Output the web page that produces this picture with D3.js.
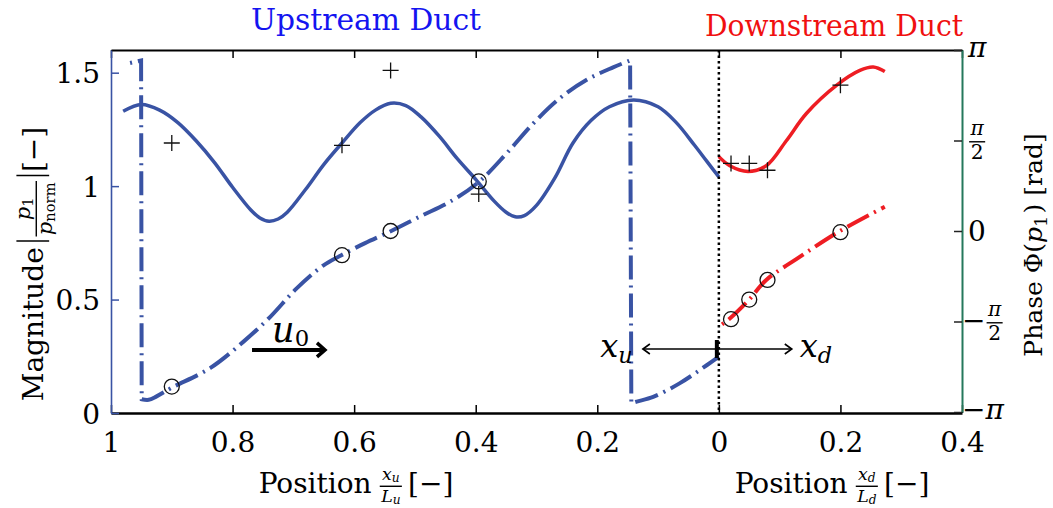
<!DOCTYPE html>
<html>
<head>
<meta charset="utf-8">
<script src="https://cdn.jsdelivr.net/npm/d3@7"></script>
<style>
  body { margin: 0; background: #fff; }
  svg { display: block; }
  svg text { font-family: "DejaVu Serif", "Liberation Serif", serif; }
</style>
</head>
<body>
<svg id="chart" width="1053" height="508"></svg>
<script>
// ---- data ----
// upstream duct: position x_u/L_u (axis runs 1 -> 0 from left to right)
var upMagPos = [0.98, 0.95, 0.92, 0.89, 0.86, 0.83, 0.80, 0.77, 0.755, 0.74, 0.725, 0.71, 0.68, 0.65, 0.62,
                0.59, 0.565, 0.54, 0.515, 0.49, 0.46, 0.43, 0.40, 0.37, 0.35, 0.335, 0.32, 0.30, 0.27,
                0.24, 0.21, 0.18, 0.14, 0.10, 0.07, 0.04, 0.02, 0.0];
var upMag    = [1.33, 1.36, 1.335, 1.28, 1.20, 1.105, 0.995, 0.895, 0.86, 0.845, 0.855, 0.885, 0.985, 1.095, 1.19,
                1.28, 1.335, 1.365, 1.355, 1.305, 1.22, 1.12, 1.03, 0.935, 0.885, 0.865, 0.87, 0.915, 1.035,
                1.19, 1.29, 1.35, 1.38, 1.35, 1.28, 1.18, 1.11, 1.04];
var upPhasePos = [0.975, 0.9505, 0.9495, 0.938, 0.925, 0.90, 0.837, 0.782, 0.738, 0.695, 0.651, 0.621, 0.582, 0.539,
                  0.492, 0.437, 0.394, 0.349, 0.305, 0.262, 0.218, 0.174, 0.146, 0.144, 0.135, 0.108, 0.064, 0.02, 0.0];
var upPhase    = [2.90, 2.96, -2.92, -2.93, -2.87, -2.72, -2.38, -1.92, -1.49, -1.00, -0.60, -0.42, -0.21, 0.0,
                  0.25, 0.54, 0.86, 1.35, 1.87, 2.30, 2.62, 2.84, 2.96, -2.99, -2.96, -2.88, -2.64, -2.33, -2.18];
var upMeasPos   = [0.90, 0.62, 0.54, 0.395];
var upMeasMag   = [1.19, 1.18, 1.51, 0.965];
var upMeasPhase = [-2.70, -0.42, 0.0, 0.86];

// downstream duct: position x_d/L_d
var dnMagPos = [0, 0.018, 0.048, 0.078, 0.111, 0.144, 0.194, 0.232, 0.254, 0.273];
var dnMag    = [1.13, 1.09, 1.065, 1.09, 1.20, 1.32, 1.445, 1.51, 1.525, 1.505];
var dnPhasePos = [0, 0.018, 0.05, 0.078, 0.133, 0.196, 0.273];
var dnPhase    = [-1.66, -1.52, -1.19, -0.85, -0.45, -0.02, 0.42];
var dnMeasPos   = [0.02, 0.05, 0.08, 0.20];
var dnMeasMag   = [1.10, 1.10, 1.07, 1.445];
var dnMeasPhase = [-1.53, -1.19, -0.85, -0.02];

// axis ticks (negative = upstream side)
var xTicks = [-1, -0.8, -0.6, -0.4, -0.2, 0, 0.2, 0.4];
var magTicks = [0, 0.5, 1, 1.5];
var phaseTicks = [-Math.PI, -Math.PI / 2, 0, Math.PI / 2, Math.PI];

var blue = "#3953a4", red = "#ee1d23", green = "#25785c";
var serif = "DejaVu Serif, Liberation Serif, serif";

var svg = d3.select("#chart");
var x = d3.scaleLinear().domain([-1, 0.4]).range([111, 962]);
var yMag = d3.scaleLinear().domain([0, 1.6]).range([413, 50]);
var yPh = d3.scaleLinear().domain([-Math.PI, Math.PI]).range([412, 50]);

// simple math typesetting: text runs, subscripts, fractions, tall bars
function typeset(g, parts, fs) {
  var cx = 0;
  parts.forEach(function (p) {
    if (p.frac) {
      var sz = fs * (p.scale || 0.72);
      var fg = g.append("g");
      var ng = fg.append("g"), dg = fg.append("g");
      var wn = typeset(ng, p.frac[0], sz), wd = typeset(dg, p.frac[1], sz);
      var w = Math.max(wn, wd) + fs * 0.1;
      var bar = -fs * 0.24;
      cx += fs * (p.pre || 0.04);
      ng.attr("transform", "translate(" + (cx + (w - wn) / 2) + "," + (bar - sz * (p.nd || 0.25)) + ")");
      dg.attr("transform", "translate(" + (cx + (w - wd) / 2) + "," + (bar + sz * (p.dd || 0.75)) + ")");
      fg.append("line").attr("x1", cx).attr("x2", cx + w).attr("y1", bar).attr("y2", bar)
        .attr("stroke", "#000").attr("stroke-width", Math.max(1.2, fs * 0.05));
      cx += w + fs * (p.gap || 0.08);
    } else if (p.bar) {
      g.append("line").attr("x1", cx + fs * 0.12).attr("x2", cx + fs * 0.12)
        .attr("y1", -fs * p.bar[0]).attr("y2", fs * p.bar[1])
        .attr("stroke", "#000").attr("stroke-width", 1.4);
      cx += fs * 0.24;
    } else {
      var sz2 = fs * (p.s || 1);
      var t = g.append("text").attr("x", cx).attr("y", (p.dy || 0) * fs)
        .attr("font-size", sz2).attr("font-style", p.i ? "italic" : null)
        .attr("font-family", serif).attr("fill", "#000").text(p.t);
      cx += t.node().getComputedTextLength() + (p.k || 0) * fs;
    }
  });
  return cx;
}

function mathText(parts, fs, px, py, rot, anchor) {
  var g = svg.append("g");
  var inner = g.append("g");
  var w = typeset(inner, parts, fs);
  var off = anchor === "start" ? 0 : anchor === "end" ? -w : -w / 2;
  inner.attr("transform", "translate(" + off + ",0)");
  g.attr("transform", "translate(" + px + "," + py + ")" + (rot ? " rotate(" + rot + ")" : ""));
  return g;
}

// ---- axes ----
var fmt = function (d) { return String(+Math.abs(d).toFixed(1)); };

var gBottom = svg.append("g").attr("transform", "translate(0," + yMag(0) + ")")
  .call(d3.axisBottom(x).tickValues(xTicks).tickSizeInner(-8).tickSizeOuter(0)
    .tickPadding(19).tickFormat(fmt));
gBottom.attr("font-family", serif);
gBottom.select(".domain").attr("stroke", "#000").attr("stroke-width", 2.5);
gBottom.selectAll(".tick line").attr("stroke", "#000").attr("stroke-width", 1.5);
gBottom.selectAll(".tick text").attr("font-size", 28).attr("fill", "#000");

var gTop = svg.append("g").attr("transform", "translate(0," + yMag(1.6) + ")")
  .call(d3.axisTop(x).tickValues(xTicks).tickSizeInner(-8).tickSizeOuter(0).tickFormat(""));
gTop.select(".domain").attr("stroke", "#000").attr("stroke-width", 2);
gTop.selectAll(".tick line").attr("stroke", "#000").attr("stroke-width", 1.5);

var gLeft = svg.append("g").attr("transform", "translate(" + x(-1) + ",0)")
  .call(d3.axisLeft(yMag).tickValues(magTicks).tickSizeInner(-8).tickSizeOuter(0)
    .tickPadding(11).tickFormat(function (d) { return String(d); }));
gLeft.attr("font-family", serif);
gLeft.select(".domain").attr("stroke", blue).attr("stroke-width", 1.6);
gLeft.selectAll(".tick line").attr("stroke", blue).attr("stroke-width", 1.5);
gLeft.selectAll(".tick text").attr("font-size", 28).attr("fill", "#000").attr("dy", "0.36em");

var gRight = svg.append("g").attr("transform", "translate(" + x(0.4) + ",0)")
  .call(d3.axisRight(yPh).tickValues(phaseTicks).tickSizeInner(-8).tickSizeOuter(0).tickFormat(""));
gRight.select(".domain").attr("stroke", green).attr("stroke-width", 2);
gRight.selectAll(".tick line").attr("stroke", "#222").attr("stroke-width", 1.5);

// right tick labels in units of pi
var piLabels = [
  [{ t: "\u2212" }, { t: "\u03c0", i: true }],
  [{ t: "\u2212" }, { frac: [[{ t: "\u03c0", i: true }], [{ t: "2" }]], nd: 0.32, dd: 0.85 }],
  [{ t: "0" }],
  [{ frac: [[{ t: "\u03c0", i: true }], [{ t: "2" }]], nd: 0.32, dd: 0.85 }],
  [{ t: "\u03c0", i: true }]
];
phaseTicks.forEach(function (v, i) {
  var isFrac = i === 1 || i === 3;
  var base = i === 2 ? yPh(v) + 10 : isFrac ? yPh(v) + 8 : yPh(v) + 7;
  mathText(piLabels[i], 28, x(0.4) + (i < 2 ? 0 : 6), base, 0, "start");
});

// ---- curves ----
// smooth each branch; wraps of the phase are joined by straight jumps
function branchPath(pos, val, sx, yS) {
  var pts = d3.zip(pos, val), segs = [[pts[0]]];
  for (var i = 1; i < pts.length; i++) {
    if (Math.abs(pts[i][1] - pts[i - 1][1]) > Math.PI) segs.push([]);
    segs[segs.length - 1].push(pts[i]);
  }
  var ln = d3.line().x(function (d) { return x(sx * d[0]); }).y(function (d) { return yS(d[1]); })
    .curve(d3.curveCatmullRom.alpha(0.5));
  return segs.map(function (s, k) {
    var d = ln(s);
    return k === 0 ? d : "L" + d.slice(1);
  }).join("");
}
var dashDot = "24,6,2,6";

svg.append("path").attr("d", branchPath(upPhasePos, upPhase, -1, yPh))
  .attr("fill", "none").attr("stroke", blue).attr("stroke-width", 4)
  .attr("stroke-dasharray", dashDot).attr("stroke-dashoffset", 26);
svg.append("path").attr("d", branchPath(upMagPos, upMag, -1, yMag))
  .attr("fill", "none").attr("stroke", blue).attr("stroke-width", 3.5);
svg.append("path").attr("d", branchPath(dnPhasePos, dnPhase, 1, yPh))
  .attr("fill", "none").attr("stroke", red).attr("stroke-width", 4)
  .attr("stroke-dasharray", dashDot).attr("stroke-dashoffset", 26);
svg.append("path").attr("d", branchPath(dnMagPos, dnMag, 1, yMag))
  .attr("fill", "none").attr("stroke", red).attr("stroke-width", 3.5);

// junction between the ducts
svg.append("line").attr("x1", x(0)).attr("x2", x(0)).attr("y1", yMag(1.6)).attr("y2", yMag(0))
  .attr("stroke", "#000").attr("stroke-width", 2.5).attr("stroke-dasharray", "2.5,3");

// ---- measured points ----
var plusPts = d3.zip(upMeasPos.map(function (d) { return -d; }), upMeasMag)
  .concat(d3.zip(dnMeasPos, dnMeasMag));
var circPts = d3.zip(upMeasPos.map(function (d) { return -d; }), upMeasPhase)
  .concat(d3.zip(dnMeasPos, dnMeasPhase));

svg.append("g").selectAll("path").data(plusPts).enter().append("path")
  .attr("d", function (d) {
    var cx = x(d[0]), cy = yMag(d[1]);
    return "M" + (cx - 8) + "," + cy + "H" + (cx + 8) + "M" + cx + "," + (cy - 8) + "V" + (cy + 8);
  })
  .attr("stroke", "#111").attr("stroke-width", 1.3).attr("fill", "none");

svg.append("g").selectAll("circle").data(circPts).enter().append("circle")
  .attr("cx", function (d) { return x(d[0]); }).attr("cy", function (d) { return yPh(d[1]); })
  .attr("r", 7.5).attr("fill", "none").attr("stroke", "#111").attr("stroke-width", 1.3);

// ---- annotations ----
var ay = yMag(0.282);
svg.append("line").attr("x1", x(0)).attr("x2", x(-0.125)).attr("y1", ay).attr("y2", ay)
  .attr("stroke", "#000").attr("stroke-width", 1.6);
svg.append("line").attr("x1", x(0)).attr("x2", x(0.12)).attr("y1", ay).attr("y2", ay)
  .attr("stroke", "#000").attr("stroke-width", 1.6);
svg.append("path").attr("d", "M" + (x(-0.125) + 7) + "," + (ay - 5) + "L" + x(-0.125) + "," + ay + "L" + (x(-0.125) + 7) + "," + (ay + 5))
  .attr("fill", "none").attr("stroke", "#000").attr("stroke-width", 1.6);
svg.append("path").attr("d", "M" + (x(0.12) - 7) + "," + (ay - 5) + "L" + x(0.12) + "," + ay + "L" + (x(0.12) - 7) + "," + (ay + 5))
  .attr("fill", "none").attr("stroke", "#000").attr("stroke-width", 1.6);
svg.append("line").attr("x1", x(0) - 2).attr("x2", x(0) - 2).attr("y1", ay - 9).attr("y2", ay + 9)
  .attr("stroke", "#000").attr("stroke-width", 4);

mathText([{ t: "x", i: true }, { t: "u", i: true, s: 0.7, dy: 0.2 }], 32, x(-0.195), ay + 8, 0, "start");
mathText([{ t: "x", i: true }, { t: "d", i: true, s: 0.7, dy: 0.2 }], 32, x(0.133), ay + 8, 0, "start");

// mean flow arrow
var uy = yMag(0.278);
svg.append("line").attr("x1", x(-0.768)).attr("x2", x(-0.648)).attr("y1", uy).attr("y2", uy)
  .attr("stroke", "#000").attr("stroke-width", 4);
svg.append("path").attr("d", "M" + (x(-0.648) - 8) + "," + (uy - 7) + "L" + x(-0.648) + "," + uy + "L" + (x(-0.648) - 8) + "," + (uy + 7))
  .attr("fill", "none").attr("stroke", "#000").attr("stroke-width", 3.5);
mathText([{ t: "u", i: true }, { t: "0", s: 0.65, dy: 0.12 }], 35, x(-0.735), uy - 8, 0, "start");

// ---- titles and axis labels ----
svg.append("text").attr("x", 366).attr("y", 30).attr("text-anchor", "middle")
  .attr("font-size", 29).attr("fill", "#1414f0").attr("font-family", serif)
  .attr("textLength", 230).attr("lengthAdjust", "spacingAndGlyphs").text("Upstream Duct");
svg.append("text").attr("x", 834).attr("y", 36).attr("text-anchor", "middle")
  .attr("font-size", 29).attr("fill", "#f01010").attr("font-family", serif)
  .attr("textLength", 258).attr("lengthAdjust", "spacingAndGlyphs").text("Downstream Duct");

mathText([{ t: "Magnitude", k: 0.1 }, { bar: [0.95, 0.22] },
  { frac: [[{ t: "p", i: true }, { t: "1", s: 0.7, dy: 0.15 }],
           [{ t: "p", i: true }, { t: "norm", s: 0.7, dy: 0.15 }]], nd: 0.3, scale: 0.75 },
  { bar: [0.95, 0.22] }, { t: " [\u2212]" }], 28, 43, 264, -90, "middle");

mathText([{ t: "Phase \u03a6(" }, { t: "p", i: true }, { t: "1", s: 0.7, dy: 0.18, k: 0.1 }, { t: ") [rad]" }],
  25, 1042, 245, -90, "middle");

mathText([{ t: "Position", k: 0.25 },
  { frac: [[{ t: "x", i: true }, { t: "u", i: true, s: 0.7, dy: 0.1 }],
           [{ t: "L", i: true }, { t: "u", i: true, s: 0.7, dy: 0.1 }]], nd: 0.35, dd: 0.9, scale: 0.62, gap: 0.22 },
  { t: "[\u2212]" }], 28, 356, 493, 0, "middle");

mathText([{ t: "Position", k: 0.25 },
  { frac: [[{ t: "x", i: true }, { t: "d", i: true, s: 0.7, dy: 0.1 }],
           [{ t: "L", i: true }, { t: "d", i: true, s: 0.7, dy: 0.1 }]], nd: 0.35, dd: 0.9, scale: 0.62, gap: 0.22 },
  { t: "[\u2212]" }], 28, 832, 493, 0, "middle");
</script>
</body>
</html>
